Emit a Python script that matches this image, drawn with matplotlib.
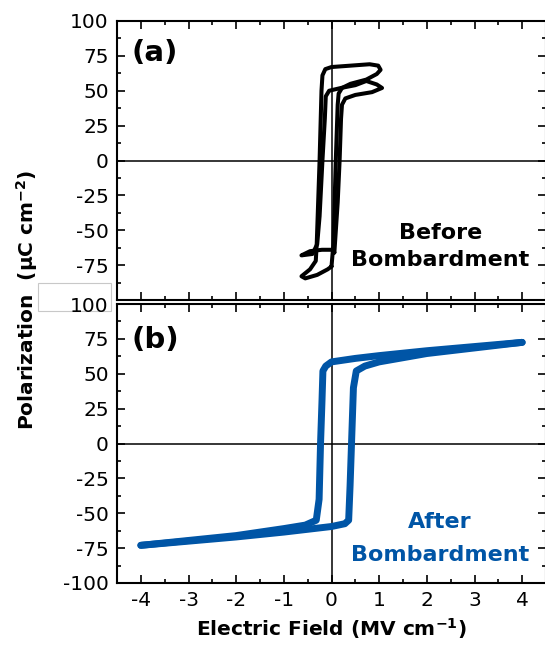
import matplotlib
matplotlib.use("Agg")
import matplotlib.pyplot as plt
from matplotlib.patches import Rectangle
from matplotlib.ticker import MultipleLocator

plt.rcParams['font.family'] = ['DejaVu Sans']

# Before bombardment: two traced P-E cycles (field in MV/cm, polarization in uC/cm^2)
before_outer_E = [0.00, 0.04, 0.09, 0.13, 0.15, 0.22, 0.40, 0.73, 0.95, 1.03, 0.98, 0.80,
                  0.40, 0.00, -0.13, -0.19, -0.21, -0.25, -0.29, -0.31, -0.33, -0.45, -0.63,
                  -0.55, -0.30, -0.08, 0.00]
before_outer_P = [-76, -60, 0, 40, 48, 52, 55, 58, 62, 65, 68, 69,
                  68, 67, 65.5, 61, 50, 0, -40, -60, -72, -78, -83,
                  -84.5, -82, -78, -76]
before_inner_E = [0.06, 0.13, 0.17, 0.20, 0.22, 0.29, 0.50, 0.85, 1.06, 0.95, 0.73, 0.50,
                  0.20, -0.05, -0.12, -0.14, -0.19, -0.25, -0.30, -0.40, -0.63, -0.45,
                  -0.20, 0.03, 0.06]
before_inner_P = [-66, -30, 0, 30, 40, 44.5, 47, 49, 52, 54.5, 57, 54,
                  52, 50, 46, 30, 0, -40, -60, -67, -68, -65,
                  -64, -64, -66]

# After bombardment: rising (increasing field) and falling (decreasing field) branches
after_up_E = [-4.0, -3.0, -2.0, -1.0, -0.5, 0.0, 0.28, 0.36, 0.39, 0.42, 0.46, 0.52, 0.70,
              1.0, 1.5, 2.0, 3.0, 4.0]
after_up_P = [-73, -70, -67, -63.5, -61.5, -59.5, -57.5, -55, -30, 0, 40, 52, 55.5,
              58.5, 61.5, 64.5, 68.5, 72.5]
after_down_E = [4.0, 3.0, 2.0, 1.0, 0.5, 0.0, -0.12, -0.18, -0.20, -0.23, -0.26, -0.32,
                -0.55, -1.0, -1.5, -2.0, -3.0, -4.0]
after_down_P = [72.5, 69.5, 66.5, 63, 61, 58.5, 55.5, 52, 30, 0, -40, -55,
                -58.5, -61, -63.5, -66, -69.5, -73]

x_ticks = [-4, -3, -2, -1, 0, 1, 2, 3, 4]
y_ticks = [-100, -75, -50, -25, 0, 25, 50, 75, 100]

BLUE = '#0055A6'
W, H = 545, 648
fig = plt.figure(figsize=(W / 100, H / 100), dpi=100)

left = 117 / W
width = (546 - 117) / W
ax_a = fig.add_axes([left, (H - 300) / H, width, 279 / H])
ax_b = fig.add_axes([left, (H - 583) / H, width, 279 / H])


def style(ax):
    ax.set_xlim(-4.5, 4.5)
    ax.set_ylim(-100, 100)
    ax.axhline(0, color='black', lw=1.1, zorder=1)
    ax.axvline(0, color='black', lw=1.1, zorder=1)
    ax.xaxis.set_major_locator(MultipleLocator(1))
    ax.xaxis.set_minor_locator(MultipleLocator(0.5))
    ax.yaxis.set_major_locator(MultipleLocator(25))
    ax.yaxis.set_minor_locator(MultipleLocator(12.5))
    ax.tick_params(which='both', direction='in', top=True, right=True, width=1.2)
    ax.tick_params(which='major', length=6, labelsize=14.5, pad=6)
    ax.tick_params(which='minor', length=3)
    ax.set_yticks(y_ticks)
    ax.set_yticklabels([str(v) for v in y_ticks])
    for s in ax.spines.values():
        s.set_linewidth(1.5)


style(ax_a)
style(ax_b)

line_kw = dict(solid_joinstyle='round', solid_capstyle='round', zorder=3)
ax_a.plot(before_outer_E, before_outer_P, color='black', lw=2.9, **line_kw)
ax_a.plot(before_inner_E, before_inner_P, color='black', lw=2.9, **line_kw)
ax_a.tick_params(axis='x', labelbottom=False)
ax_a.text(-3.7, 77, '(a)', fontsize=21, fontweight='bold', ha='center', va='center')
ax_a.text(2.28, -52, 'Before', fontsize=16, fontweight='bold', ha='center', va='center')
ax_a.text(2.28, -71, 'Bombardment', fontsize=16, fontweight='bold', ha='center', va='center')
ax_a.get_yticklabels()[0].set_visible(False)

ax_b.plot(after_up_E, after_up_P, color=BLUE, lw=5, **line_kw)
ax_b.plot(after_down_E, after_down_P, color=BLUE, lw=5, **line_kw)
ax_b.set_xticks(x_ticks)
ax_b.set_xticklabels([str(v) for v in x_ticks])
ax_b.text(-3.7, 74.5, '(b)', fontsize=21, fontweight='bold', ha='center', va='center')
ax_b.text(2.28, -56.6, 'After', fontsize=16, fontweight='bold', color=BLUE,
          ha='center', va='center')
ax_b.text(2.28, -80, 'Bombardment', fontsize=16, fontweight='bold', color=BLUE,
          ha='center', va='center')

# white framed patch behind the lower panel's top label
ax_b.add_patch(Rectangle((38 / W, 1 - 311 / H), 73 / W, 28 / H, transform=fig.transFigure,
                         facecolor='white', edgecolor='#c8c8c8', lw=0.8, clip_on=False,
                         zorder=0.5))

ax_b.set_xlabel(r'Electric Field (MV cm$^{\mathbf{-1}}$)', fontsize=14.5, fontweight='bold',
                labelpad=4)
fig.text(27 / W, 1 - 300 / H, r'Polarization  (µC cm$^{\mathbf{-2}}$)', rotation=90,
         fontsize=14.5, fontweight='bold', ha='center', va='center')

fig.savefig('out.png', dpi=100)
